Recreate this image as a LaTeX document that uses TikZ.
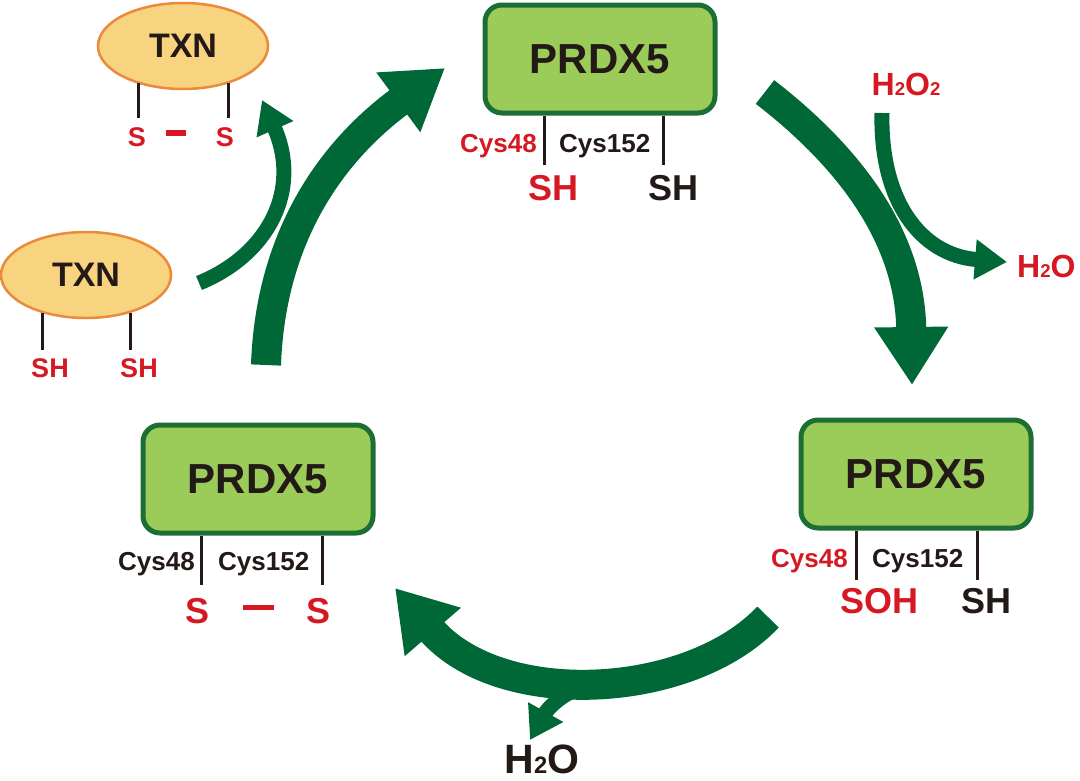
\documentclass[tikz,border=0pt]{standalone}
\usepackage{fontspec}
\setmainfont{Liberation Sans}
\usetikzlibrary{arrows.meta,shapes.geometric}

\definecolor{cycgreen}{RGB}{0,104,55}
\definecolor{boxgreen}{RGB}{155,204,90}
\definecolor{boxedge}{RGB}{28,110,52}
\definecolor{txnfill}{RGB}{248,212,128}
\definecolor{txnedge}{RGB}{234,138,58}
\definecolor{cysred}{RGB}{214,24,34}
\definecolor{inkblack}{RGB}{35,25,22}

\newcommand{\fsz}[1]{\fontsize{#1}{#1}\selectfont\bfseries}
\newcommand{\lowtwo}{\scalebox{0.58}{2}}

\tikzset{
  prdx/.style={draw=boxedge, line width=5pt, fill=boxgreen, rounded corners=17pt,
    minimum width=230pt, minimum height=108pt, text=inkblack, font=\fsz{42}},
  txn/.style={ellipse, draw=txnedge, line width=2.5pt, fill=txnfill,
    minimum width=170pt, minimum height=86pt, inner sep=0pt, text=inkblack, font=\fsz{34}},
  stick/.style={line width=3pt, inkblack},
  cys/.style={inner sep=0pt, font=\fsz{26}},
  thiol/.style={inner sep=0pt, font=\fsz{36}},
  txnthiol/.style={inner sep=0pt, font=\fsz{27}, text=cysred},
  bond/.style={line width=5pt, cysred},
  bigarrow/.style={line width=30pt, cycgreen, -{Triangle[length=58pt,width=70pt]}},
  smallarrow/.style={line width=15pt, cycgreen, -{Triangle[length=32pt,width=38pt]}},
}

\begin{document}
\begin{tikzpicture}[x=1pt,y=-1pt]
  \useasboundingbox (0,0) rectangle (1080,780);

  % cycle arrows
  \coordinate (upS) at (266,365);
  \coordinate (upE) at (445,68);
  \draw[bigarrow] (upS) .. controls (270,250) and (320,160) .. (upE);
  \coordinate (downS) at (765,92);
  \coordinate (downE) at (912,385);
  \draw[bigarrow] (downS) .. controls (840,150) and (910,230) .. (downE);
  \coordinate (backS) at (768,617);
  \coordinate (backE) at (395,588);
  \draw[bigarrow] (backS) .. controls (690,700) and (500,710) .. (backE);
  \coordinate (wasteS) at (592,684);
  \coordinate (wasteE) at (530,740);
  \draw[smallarrow] (wasteS) .. controls (565,690) and (548,708) .. (wasteE);

  % PRDX5, reduced
  \node[prdx] (prdxA) at (600,59) {PRDX5};
  \coordinate (a48) at (544,165);
  \coordinate (a152) at (663,165);
  \draw[stick] (prdxA.south -| a48) -- (a48);
  \draw[stick] (prdxA.south -| a152) -- (a152);
  \node[cys, text=cysred, anchor=base east] (a48lbl) at (537,152) {Cys48};
  \node[cys, text=inkblack, anchor=base west] (a152lbl) at (559,152) {Cys152};
  \node[thiol, text=cysred, anchor=base west] (aSH1) at (528,200) {SH};
  \node[thiol, text=inkblack, anchor=base west] (aSH2) at (648,200) {SH};

  % PRDX5, sulfenic acid
  \node[prdx] (prdxB) at (916,474) {PRDX5};
  \coordinate (b48) at (856,580);
  \coordinate (b152) at (977,580);
  \draw[stick] (prdxB.south -| b48) -- (b48);
  \draw[stick] (prdxB.south -| b152) -- (b152);
  \node[cys, text=cysred, anchor=base east] (b48lbl) at (848,567) {Cys48};
  \node[cys, text=inkblack, anchor=base west] (b152lbl) at (872,567) {Cys152};
  \node[thiol, text=cysred, anchor=base west] (bSOH) at (840,613) {SOH};
  \node[thiol, text=inkblack, anchor=base west] (bSH) at (961,613) {SH};

  % PRDX5, disulfide
  \node[prdx] (prdxC) at (258,479) {PRDX5};
  \coordinate (c48) at (201,585);
  \coordinate (c152) at (322,585);
  \draw[stick] (prdxC.south -| c48) -- (c48);
  \draw[stick] (prdxC.south -| c152) -- (c152);
  \node[cys, text=inkblack, anchor=base east] (c48lbl) at (195,570) {Cys48};
  \node[cys, text=inkblack, anchor=base west] (c152lbl) at (218,570) {Cys152};
  \node[thiol, text=cysred, anchor=base west] (cS1) at (185,623) {S};
  \node[thiol, text=cysred, anchor=base west] (cS2) at (306,623) {S};
  \draw[bond, shorten <=34pt, shorten >=32pt] (cS1.east |- 0,607) -- (cS2.west |- 0,607);

  % H2O2 -> H2O
  \coordinate (peroxS) at (882,113);
  \coordinate (peroxE) at (1007,262);
  \draw[smallarrow] (peroxS) .. controls (880,200) and (920,255) .. (peroxE);
  \node[inner sep=0pt, font=\fsz{32}, text=cysred] (h2o2) at (906,84) {H\lowtwo O\lowtwo};
  \node[inner sep=0pt, font=\fsz{32}, text=cysred, anchor=west] (h2oA) at (1017,266) {H\lowtwo O};
  \node[inner sep=0pt, font=\fsz{41}, text=inkblack] (h2oB) at (542,759) {H\lowtwo O};

  % TXN
  \coordinate (trxS) at (199,283);
  \coordinate (trxE) at (262,100);
  \draw[smallarrow] (trxS) .. controls (268,255) and (302,190) .. (trxE);

  \node[txn] (txnA) at (183,46) {TXN};
  \coordinate (tA1) at (138,118);
  \coordinate (tA2) at (228,118);
  \draw[stick] (tA1 |- txnA.219) -- (tA1);
  \draw[stick] (tA2 |- txnA.321) -- (tA2);
  \node[txnthiol, anchor=base] (tAS1) at (137,146) {S};
  \node[txnthiol, anchor=base] (tAS2) at (225,146) {S};
  \draw[bond, line width=5.5pt, shorten <=20pt, shorten >=30pt] (tAS1.east |- 0,133) -- (tAS2.west |- 0,133);

  \node[txn] (txnB) at (86,275) {TXN};
  \coordinate (tB1) at (42,350);
  \coordinate (tB2) at (130,350);
  \draw[stick] (tB1 |- txnB.220) -- (tB1);
  \draw[stick] (tB2 |- txnB.320) -- (tB2);
  \node[txnthiol, anchor=base] (tBS1) at (50,377) {SH};
  \node[txnthiol, anchor=base] (tBS2) at (139,377) {SH};
\end{tikzpicture}
\end{document}
